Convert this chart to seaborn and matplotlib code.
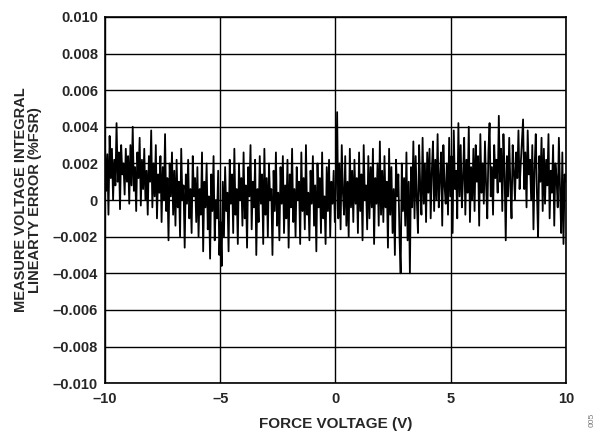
import numpy as np
import pandas as pd
import matplotlib
matplotlib.use("Agg")
import matplotlib.pyplot as plt
import seaborn as sns

# integral linearity error, in units of 1e-4 %FSR
# one row per volt, from -10 V to +10 V
err_e4 = [
    30, 5, 25, -8, 35, 12, 28, 0, 22, 8, 42, 10, 26, -5, 30, 14, 20, 3, 28, 10,
    24, -2, 30, 8, 40, 5, 18, -6, 26, 12, 34, -3, 22, 6, 28, 0, 16, -8, 24, 10,
    38, -4, 20, 2, 30, -10, 14, 4, 24, -12, 18, 0, 36, -6, 12, -22, 20, 2, 26, -8,
    16, -14, 22, -4, 10, -20, 28, 0, 8, -26, 14, -2, 22, -10, 6, -18, 24, 2, 12, -12,
    18, -20, 6, -8, 26, -28, 10, -4, 20, -16, 2, -32, 14, -6, 24, -22, 0, -10, 16, -30,
    -12, -36, 10, -20, 18, -6, 4, -28, 22, -2, 14, -18, 28, -8, 6, -24, 20, 0, 12, -14,
    26, -10, 8, -26, 18, 2, 30, -16, 10, -4, 22, -30, 6, -12, 24, -2, 14, -24, 28, -8,
    12, -20, 20, 0, 6, -30, 16, -6, 26, -14, 4, -22, 18, -2, 24, -18, 8, -10, 22, -26,
    14, -4, 28, -12, 6, -20, 18, 0, 10, -24, 26, -6, 12, -16, 30, -8, 4, -22, 16, -2,
    24, -14, 8, -28, 20, -4, 12, -18, 26, -10, 2, -24, 18, -6, 22, -20, 10, -2, 16, -12,
    6, 48, -10, 20, -16, 30, 4, -8, 24, -14, 10, -20, 28, -4, 16, -12, 22, -2, 12, -18,
    26, -6, 14, -22, 30, 0, 8, -16, 24, -10, 18, -4, 28, -24, 12, -2, 20, -14, 32, -8,
    16, -12, 24, -4, 10, -26, 28, -8, 18, -18, 6, -30, 22, 2, 14, -20, -40, 20, -6, 12,
    -14, 26, -22, 10, -40, 18, -4, 32, -10, 24, 0, -18, 30, 6, -8, 34, -2, 20, -12, 26,
    4, 28, -10, 16, 32, -6, 22, 0, 36, -4, 12, 26, -14, 30, 8, -2, 20, -8, 34, 2,
    24, -18, 38, 6, 16, -10, 42, 2, 30, -4, 12, 34, -8, 22, 4, 40, -12, 18, 0, 28,
    -6, 30, 10, 24, -14, 36, 4, 20, -2, 32, 8, -10, 26, 42, 2, 18, -8, 30, 12, 22,
    4, 46, 10, 28, -6, 36, 14, -22, 24, 2, 34, 8, -10, 30, 16, 0, 26, 12, 38, 6,
    20, 32, 44, 6, 26, -4, 38, 14, 22, 0, 30, -16, 18, 36, 4, -20, 24, 10, 34, -6,
    28, -2, 22, 8, 36, -10, 16, 4, 30, -14, 20, 12, -4, 34, 6, -18, 26, -24, 14, 10,
]
x_ticks = [-10, -5, 0, 5, 10]
y_ticks = [-0.010, -0.008, -0.006, -0.004, -0.002, 0, 0.002, 0.004, 0.006, 0.008, 0.010]
y_labels = ["–0.010", "–0.008", "–0.006", "–0.004", "–0.002", "0",
            "0.002", "0.004", "0.006", "0.008", "0.010"]
x_labels = ["–10", "–5", "0", "5", "10"]

df = pd.DataFrame({
    "v": np.linspace(-10, 10, len(err_e4)),
    "err": np.array(err_e4) * 1e-4,
})

sns.set_style("white")
plt.rcParams["font.family"] = ["Liberation Sans", "DejaVu Sans"]

fig = plt.figure(figsize=(6, 4.33), dpi=100)
ax = fig.add_axes([0.175, 0.115, 0.768, 0.846])

sns.lineplot(data=df, x="v", y="err", color="black", linewidth=1.3, ax=ax)

ax.set_xlim(-10, 10)
ax.set_ylim(-0.010, 0.010)
ax.set_xticks(x_ticks)
ax.set_xticklabels(x_labels, fontweight="bold", fontsize=10.5)
ax.set_yticks(y_ticks)
ax.set_yticklabels(y_labels, fontweight="bold", fontsize=10.5)
ax.tick_params(axis="y", length=0, pad=5)
ax.tick_params(axis="x", length=0, pad=6)
ax.grid(True, color="black", linewidth=1.0)
ax.set_axisbelow(True)
for s in ax.spines.values():
    s.set_color("black")
    s.set_linewidth(1.2)

ax.set_xlabel("FORCE VOLTAGE (V)", fontweight="bold", fontsize=11, labelpad=8)
ax.set_ylabel("MEASURE VOLTAGE INTEGRAL\nLINEARTY ERROR (%FSR)", fontweight="bold",
              fontsize=10.5, labelpad=8, linespacing=1.0)

fig.text(0.992, 0.015, "005", rotation=90, fontsize=6, color="#777777",
         ha="right", va="bottom")

fig.savefig("out.png", dpi=100)
